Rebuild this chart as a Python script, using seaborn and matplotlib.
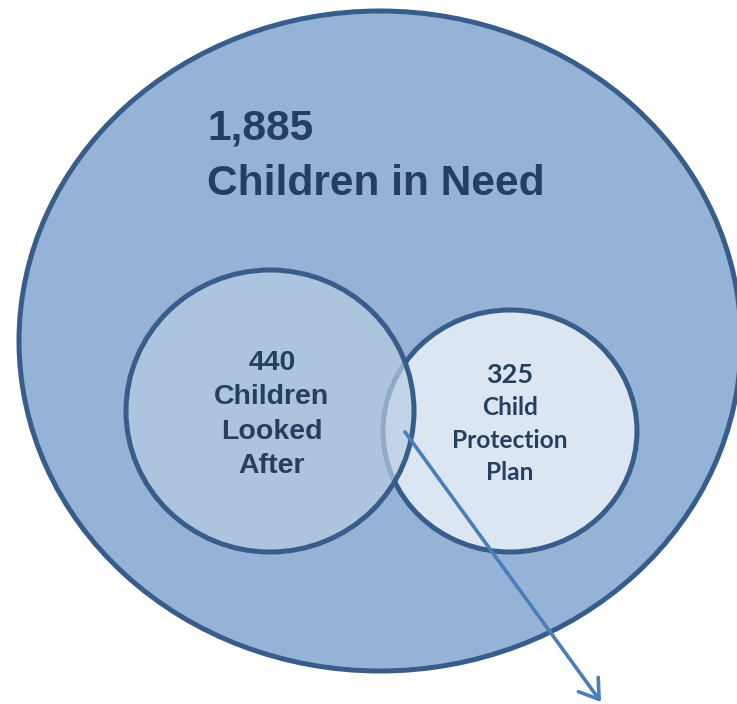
import matplotlib
matplotlib.use("Agg")
import matplotlib.pyplot as plt
from matplotlib.patches import Ellipse, FancyArrowPatch
import seaborn as sns

# ---- data ----
groups = ["Children in Need", "Children Looked After", "Child Protection Plan"]
counts = [1885, 440, 325]
label_lines = [
    ["1,885", "Children in Need"],
    ["440", "Children", "Looked", "After"],
    ["325", "Child", "Protection", "Plan"],
]

sns.set_theme(style="white")
plt.rcParams["font.family"] = ["Liberation Sans", "DejaVu Sans"]

W, H = 737, 704
fig = plt.figure(figsize=(W / 100, H / 100), dpi=100)
ax = fig.add_axes([0, 0, 1, 1])
ax.set_xlim(0, W)
ax.set_ylim(H, 0)
ax.set_aspect("equal")
ax.axis("off")

edge = "#385d8a"
txt = "#243f60"
lw = 3.6

# big ellipse: Children in Need
ax.add_patch(Ellipse((380, 341), 722, 660, facecolor="#95b3d7",
                     edgecolor=edge, linewidth=lw, zorder=1))
# Child Protection Plan circle
ax.add_patch(Ellipse((510, 431), 254, 242, facecolor="#dce6f2",
                     edgecolor=edge, linewidth=lw, zorder=2))
# Looked After circle (semi-transparent fill)
ax.add_patch(Ellipse((270, 411), 288, 282, facecolor="#b9cde4", alpha=0.69,
                     edgecolor="none", zorder=3))
ax.add_patch(Ellipse((270, 411), 288, 282, facecolor="none",
                     edgecolor=edge, linewidth=lw, zorder=4))

# arrow
ax.add_patch(FancyArrowPatch((405, 432), (601, 702), arrowstyle="->,head_length=6,head_width=4",
                             mutation_scale=2.2, color="#4a7ebb", linewidth=2.6,
                             shrinkA=0, shrinkB=0, zorder=5))

# texts
big = label_lines[0]
ax.text(207, 139, big[0], fontsize=30.6, fontweight="bold", color=txt,
        ha="left", va="baseline", zorder=6)
ax.text(207, 195, big[1], fontsize=30.6, fontweight="bold", color=txt,
        ha="left", va="baseline", zorder=6)

for i, line in enumerate(label_lines[1]):
    ax.text(272, 370 + 34.3 * i, line, fontsize=20.5, fontweight="bold", color=txt,
            ha="center", va="baseline", zorder=6)

for i, line in enumerate(label_lines[2]):
    ax.text(510, 383 + 32.3 * i, line, fontsize=19.5 if i == 0 else 17.6, fontweight="bold",
            color=txt, ha="center", va="baseline", zorder=6,
            family=["Lato", "DejaVu Sans"])

fig.savefig("out.png", dpi=100)
